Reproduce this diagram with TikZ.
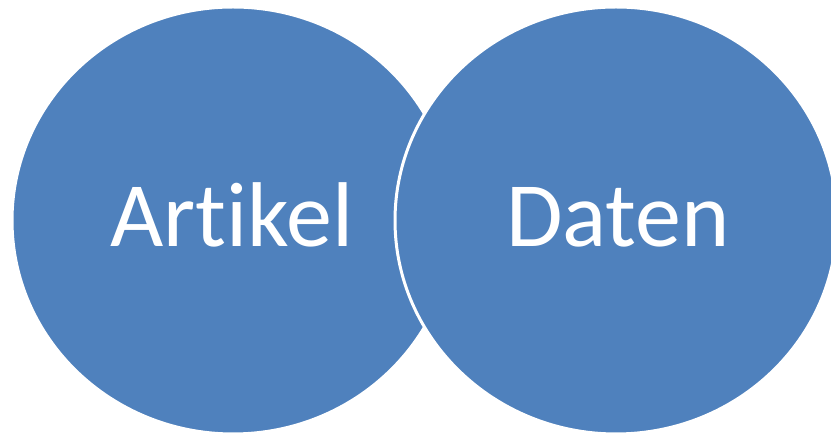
\documentclass[tikz,border=0pt]{standalone}
\usepackage{fontspec}
\setmainfont[Ligatures=NoCommon]{Carlito}
\usetikzlibrary{shapes.geometric}
\definecolor{bubble}{HTML}{4F81BD}
\tikzset{
  bubble/.style={ellipse,fill=bubble,draw=white,line width=3pt,
    minimum width=442pt,minimum height=427pt,inner sep=0pt},
  word/.style={text=white,anchor=base,inner sep=0pt,
    font=\fontsize{92}{110}\selectfont}
}
\begin{document}
\begin{tikzpicture}[x=1pt,y=1pt]
\useasboundingbox (0,0) rectangle (831,436);
\clip (0,0) rectangle (831,436);
\node[bubble] (artikel) at (233,215.5) {};
\node[bubble] (daten) at (616,215.5) {};
\node[word] (tartikel) at (232,189) {Artikel};
\node[word] (tdaten) at (618,189) {Daten};
\end{tikzpicture}
\end{document}
